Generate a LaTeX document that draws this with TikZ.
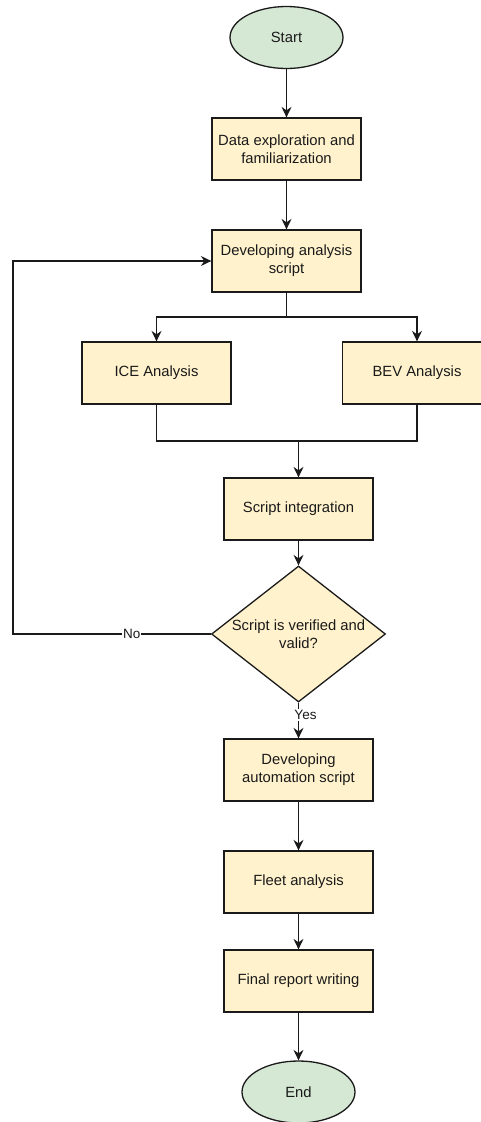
\documentclass[tikz,border=0pt]{standalone}
\usepackage{fontspec}
\setmainfont{Liberation Sans}
\usetikzlibrary{shapes.geometric,arrows.meta}
\definecolor{procfill}{HTML}{FFF2CC}
\definecolor{termfill}{HTML}{D5E8D4}
\definecolor{edgecol}{HTML}{1A1A1A}

\begin{document}
\begin{tikzpicture}[x=1pt,y=-1pt,
  txt/.style={font=\fontsize{14.8}{18.3}\selectfont, text=edgecol},
  box/.style={txt, draw=edgecol, fill=procfill, line width=1.3pt,
    minimum width=149pt, minimum height=62pt, inner sep=0pt, align=center},
  term/.style={txt, ellipse, draw=edgecol, fill=termfill, line width=1.3pt,
    minimum width=113pt, minimum height=62pt, inner sep=0pt},
  decision/.style={diamond, draw=edgecol, fill=procfill, line width=1.3pt,
    minimum width=174pt, minimum height=136pt, inner sep=0pt},
  link/.style={draw=edgecol, line width=1.3pt},
  flow/.style={link, -{Stealth[length=10.5pt,width=10pt,inset=3.5pt]}},
  lbl/.style={fill=white, inner sep=1pt, text=edgecol,
    font=\fontsize{13.5}{16}\selectfont}]

\useasboundingbox (0,0) rectangle (481,1122);

% nodes
\node[term] (start) at (286.5,37.5) {Start};
\node[box] (explore) at (286.5,149) {Data exploration and\\familiarization};
\node[box] (devan) at (286.5,261) {Developing analysis\\script};
\node[box] (ice) at (156.5,373) {ICE Analysis};
\node[box] (bev) at (417,373) {BEV Analysis};
\node[box] (integ) at (298.5,509) {Script integration};
\node[decision] (valid) at (298.5,634) {};
\node[txt, align=center] at (valid) {Script is verified and\\valid?};
\node[box] (auto) at (298.5,770) {Developing\\automation script};
\node[box] (fleet) at (298.5,882) {Fleet analysis};
\node[box] (report) at (298.5,981) {Final report writing};
\node[term] (stop) at (298.5,1092) {End};

% connectors
\draw[flow] (start) -- (explore);
\draw[flow] (explore) -- (devan);
\coordinate (split) at (286.5,317);
\draw[flow] (devan.south) -- (split) -| (ice.north);
\draw[flow] (split) -| (bev.north);
\coordinate (merge) at (298.5,441);
\draw[link] (ice.south) |- (merge);
\draw[link] (bev.south) |- (merge);
\draw[flow] (merge) -- (integ.north);
\draw[flow] (integ) -- (valid);
\draw[flow] (valid) -- node[lbl, pos=0.35, xshift=7pt] {Yes} (auto);
\coordinate (loop) at (13,634);
\draw[flow] (valid.west) -- node[lbl, pos=0.4] {No} (loop) |- (devan.west);
\draw[flow] (auto) -- (fleet);
\draw[flow] (fleet) -- (report);
\draw[flow] (report) -- (stop);
\end{tikzpicture}
\end{document}
